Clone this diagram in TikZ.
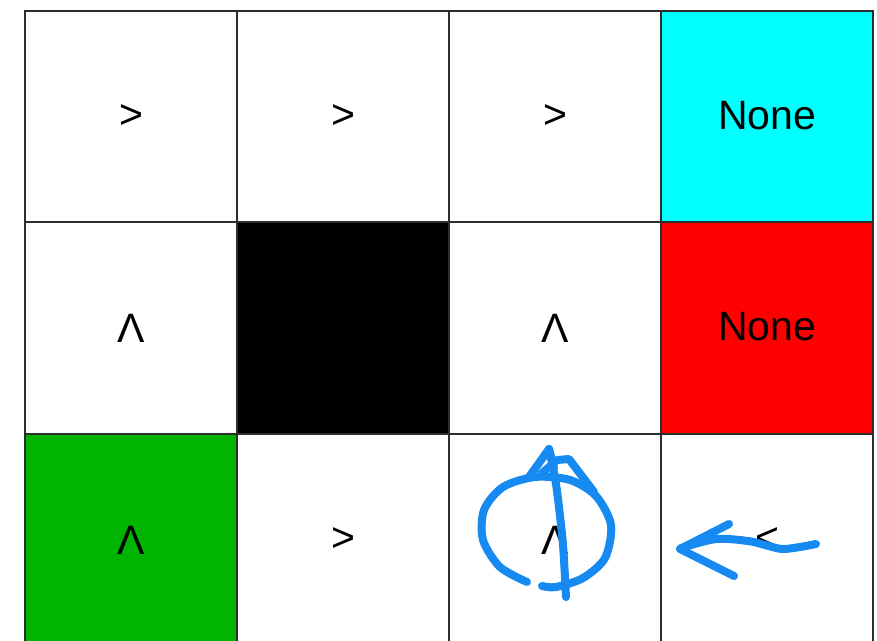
\documentclass[tikz,border=0pt]{standalone}
\usepackage{fontspec}
\setmainfont{Liberation Sans}
\definecolor{gridline}{RGB}{45,45,45}
\definecolor{goalcyan}{RGB}{0,255,255}
\definecolor{pitred}{RGB}{255,0,0}
\definecolor{startgreen}{RGB}{0,180,0}
\definecolor{pen}{RGB}{22,138,240}
\tikzset{
  cell/.style={draw=gridline, line width=1.8pt, minimum width=212pt, minimum height=211.7pt, inner sep=0pt, outer sep=0pt, font=\fontsize{41}{48}\selectfont, text=black},
  ink/.style={draw=pen, line width=8pt, line cap=round, line join=round}
}
\begin{document}
\begin{tikzpicture}[x=1pt,y=-1pt]
\useasboundingbox (0,0) rectangle (877,640);
\clip (0,0) rectangle (877,640);
\fill[white] (0,0) rectangle (877,640);
% row 1
\node[cell] (c11) at (131,116.5) {>};
\node[cell] (c12) at (343,116.5) {>};
\node[cell] (c13) at (555,116.5) {>};
\node[cell, fill=goalcyan] (c14) at (767,116.5) {\raisebox{3pt}{None}};
% row 2
\node[cell] (c21) at (131,328.2) {Λ};
\node[cell, fill=black] (c22) at (343,328.2) {};
\node[cell] (c23) at (555,328.2) {Λ};
\node[cell, fill=pitred] (c24) at (767,328.2) {\raisebox{3pt}{None}};
% row 3
\node[cell, fill=startgreen] (c31) at (131,539.9) {Λ};
\node[cell] (c32) at (343,539.9) {>};
\node[cell] (c33) at (555,539.9) {Λ};
\node[cell] (c34) at (767,539.9) {<};
% hand-drawn circle and up arrow
\draw[ink] plot[smooth] coordinates {(527,582) (500,567) (483,540) (484,510) (503,487) (535,477) (570,480) (596,496) (611,525) (605,558) (583,578) (556,587) (542,586)};
\draw[ink] plot[smooth] coordinates {(566,597) (564,560) (562,534) (556,484) (549,449)};
\draw[ink] (529,477) -- (549,449) -- (554,468);
\draw[ink] (541,474) -- (557,460) -- (569,459) -- (594,492);
% hand-drawn left arrow
\draw[ink] plot[smooth] coordinates {(816,544) (800,547) (782,549) (765,545) (748,541) (716,539) (681,548)};
\draw[ink] (729,524) -- (680,549) -- (734,576);
\end{tikzpicture}
\end{document}
